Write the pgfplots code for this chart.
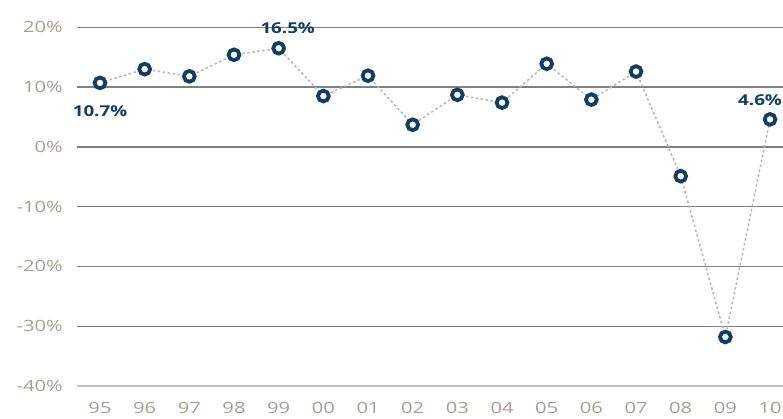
\documentclass[border=0pt]{standalone}
\usepackage{pgfplots}
\pgfplotsset{compat=1.18}
\usepackage{fontspec}
\setmainfont{Open Sans}
\newfontfamily\tickfont[FakeStretch=1.3]{Open Sans}
\newfontfamily\labfont[FakeStretch=1.25]{Open Sans}
\definecolor{navy}{HTML}{123E66}
\definecolor{ticktxt}{HTML}{A69E93}
\definecolor{gridc}{HTML}{808080}
\definecolor{dotc}{HTML}{B4B4B4}

\begin{document}
\begin{tikzpicture}
\begin{axis}[
  scale only axis,
  width=706pt, height=358.7pt,
  xmin=-0.515, xmax=15.29,
  ymin=-40, ymax=20,
  ytick={-40,-30,...,20},
  yticklabel={\pgfmathprintnumber{\tick}\%},
  xtick={0,...,15},
  xticklabels={95,96,97,98,99,00,01,02,03,04,05,06,07,08,09,10},
  axis line style={draw=none},
  tick style={draw=none},
  ymajorgrids,
  major grid style={gridc, line width=1.4pt},
  /pgf/number format/assume math mode=true,
  ticklabel style={font=\fontsize{15.5}{18}\selectfont\tickfont, text=ticktxt, inner sep=0pt},
  yticklabel style={anchor=east, xshift=-14pt},
  xticklabel style={anchor=north, yshift=-16pt},
  clip=false,
]
\draw[dotc!80!white, line width=2pt] (rel axis cs:0,0) -- (rel axis cs:1,0);
\addplot[dotc, line width=1.5pt, dash pattern=on 2.5pt off 2.5pt,
  mark=*, mark size=5.4pt,
  mark options={solid, draw=navy, fill=white, line width=3.8pt}]
  coordinates {
  (0,10.7) (1,13.0) (2,11.8) (3,15.4) (4,16.5) (5,8.5) (6,11.9) (7,3.7)
  (8,8.7) (9,7.4) (10,13.9) (11,7.9) (12,12.6) (13,-4.9) (14,-31.8) (15,4.6)
  };
\begin{scope}[every node/.style={font=\fontsize{15}{18}\selectfont\labfont\bfseries, text=navy, inner sep=0pt}]
\node[yshift=-28pt] at (axis cs:0,10.7) {10.7\%};
\node[xshift=9pt, yshift=20pt] at (axis cs:4,16.5) {16.5\%};
\node[xshift=-10pt, yshift=19pt] at (axis cs:15,4.6) {4.6\%};
\end{scope}
\coordinate (SW) at (rel axis cs:0,0);
\coordinate (NE) at (rel axis cs:1,1);
\end{axis}
\pgfresetboundingbox
\path[use as bounding box] ([xshift=-77pt, yshift=-33pt]SW) rectangle ([yshift=27.3pt]NE);
\end{tikzpicture}
\end{document}
